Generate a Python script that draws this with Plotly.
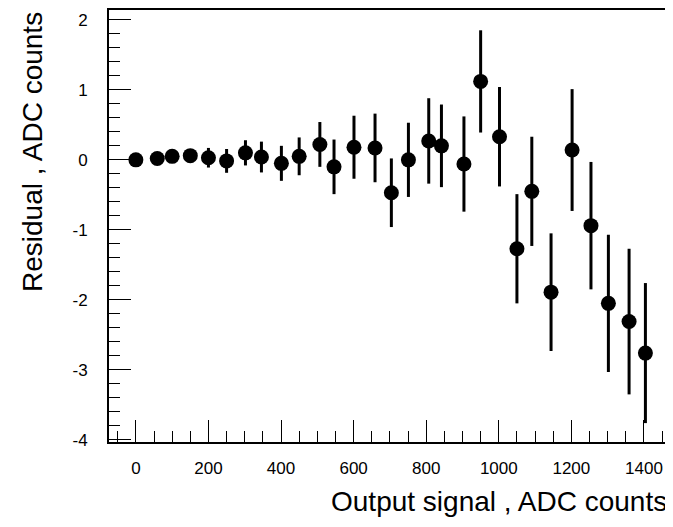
import plotly.graph_objects as go

# Data
signal = [0, 59, 100, 150, 200, 250, 302, 346, 401, 450, 507, 546, 601, 659, 704,
          751, 807, 842, 904, 950, 1002, 1050, 1091, 1144, 1202, 1254, 1302, 1359, 1404]
residual = [0.00, 0.02, 0.05, 0.06, 0.03, -0.015, 0.10, 0.04, -0.05, 0.05, 0.22, -0.10,
            0.18, 0.17, -0.47, 0.00, 0.27, 0.20, -0.06, 1.12, 0.33, -1.27, -0.45, -1.89,
            0.14, -0.94, -2.05, -2.31, -2.76]
error = [0.03, 0.04, 0.05, 0.06, 0.14, 0.17, 0.18, 0.22, 0.25, 0.27, 0.32, 0.39,
         0.45, 0.49, 0.49, 0.53, 0.61, 0.59, 0.68, 0.73, 0.71, 0.78, 0.78, 0.84,
         0.87, 0.91, 0.98, 1.04, 1.00]

y_tickvals = [-4, -3, -2, -1, 0, 1, 2]
y_ticktext = ["-4", "-3", "-2", "-1", "0", "1", "2"]

x_title = "Output signal , ADC counts"
y_title = "Residual , ADC counts"

FONT = "Liberation Sans, Arial, sans-serif"

fig = go.Figure()
fig.add_trace(go.Scatter(
    x=signal, y=residual, mode="markers",
    marker=dict(color="black", size=15),
    error_y=dict(type="data", array=error, visible=True, color="black",
                 thickness=3, width=0),
    showlegend=False,
))

axis_common = dict(
    showgrid=False, zeroline=False, showline=True, linecolor="black", linewidth=2,
    mirror=True, ticks="inside", tickcolor="black", tickwidth=1,
    tickfont=dict(family=FONT, size=17, color="black"),
)

fig.update_xaxes(
    range=[-74, 1469], dtick=200, tick0=0, ticklen=22,
    minor=dict(dtick=50, ticklen=11, ticks="inside", tickcolor="black", tickwidth=1),
    ticklabelstandoff=10,
    **axis_common,
)
fig.update_yaxes(
    range=[-4.03, 2.14], tickmode="array", tickvals=y_tickvals, ticktext=y_ticktext,
    ticklen=22,
    minor=dict(dtick=0.2, tick0=0, ticklen=11, ticks="inside", tickcolor="black", tickwidth=1),
    ticklabelstandoff=16,
    **axis_common,
)

fig.add_annotation(text=x_title, xref="paper", yref="paper", x=1.0, y=-0.138,
                   xanchor="right", yanchor="middle", showarrow=False,
                   font=dict(family=FONT, size=28, color="black"))
fig.add_annotation(text=y_title, xref="paper", yref="paper", x=-0.1375, y=1.0,
                   xanchor="center", yanchor="top", textangle=-90, showarrow=False,
                   font=dict(family=FONT, size=28, color="black"))

# page body has an 8px default margin, so the figure is sized/offset to compensate
fig.update_layout(
    width=665, height=519,
    margin=dict(l=101, r=4, t=0, b=85),
    paper_bgcolor="white", plot_bgcolor="white",
    font=dict(family=FONT, color="black"),
)

fig.write_html("out.html")
